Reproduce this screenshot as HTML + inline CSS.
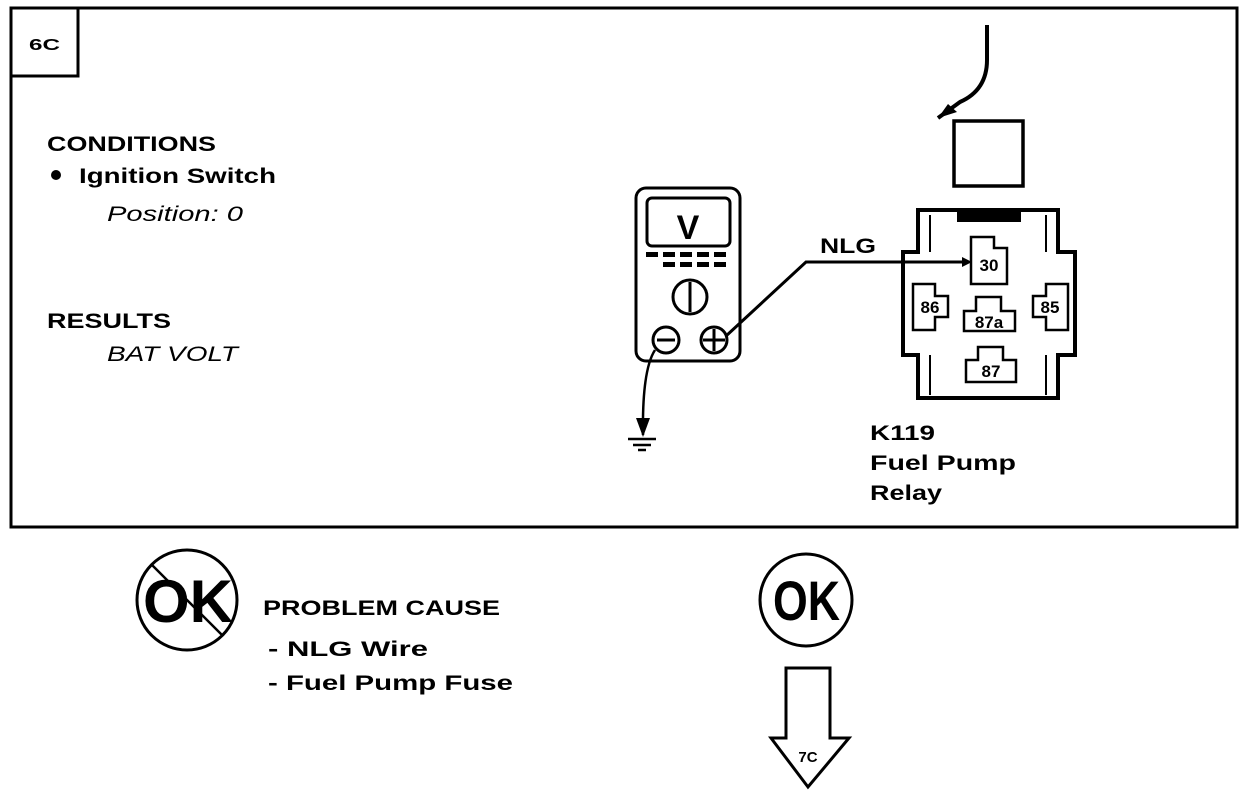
<!DOCTYPE html>
<html><head><style>
body{margin:0;background:#fff;}
svg{display:block;font-family:"Liberation Sans",Arial,sans-serif;}
.b{font-weight:bold;}
</style></head><body>
<svg width="1248" height="796" viewBox="0 0 1248 796">
<g fill="none" stroke="#000">
<rect x="11" y="8" width="1226" height="519" stroke-width="3"/>
<rect x="11" y="8" width="67" height="68" stroke-width="3"/>
<rect x="636" y="188" width="104" height="173" rx="10" stroke-width="3"/>
<rect x="647" y="198" width="83" height="48" rx="5" stroke-width="3"/>
<circle cx="690" cy="297" r="17" stroke-width="3"/>
<line x1="690" y1="282" x2="690" y2="312" stroke-width="3"/>
<circle cx="666" cy="340" r="13" stroke-width="3"/>
<line x1="657" y1="340" x2="675" y2="340" stroke-width="3"/>
<circle cx="714" cy="340" r="13" stroke-width="3"/>
<line x1="703" y1="340" x2="725" y2="340" stroke-width="3"/>
<line x1="714" y1="329" x2="714" y2="351" stroke-width="3"/>
<path d="M655 350 Q642 370 643 435" stroke-width="2.5"/>
<path d="M726 336 L806 262 L962 262" stroke-width="3"/>
<path d="M918 210 H1058 V252 H1075 V355 H1058 V398 H918 V355 H903 V252 H918 Z" stroke-width="4"/>
<line x1="930" y1="215" x2="930" y2="252" stroke-width="2"/>
<line x1="1046" y1="215" x2="1046" y2="252" stroke-width="2"/>
<line x1="930" y1="355" x2="930" y2="395" stroke-width="2"/>
<line x1="1046" y1="355" x2="1046" y2="395" stroke-width="2"/>
<path d="M971 237 H994 V248 H1007 V284 H971 Z" stroke-width="2.5"/>
<path d="M913 284 H935 V296 H948 V317 H935 V330 H913 Z" stroke-width="2.5"/>
<path d="M1068 284 H1046 V296 H1033 V317 H1046 V330 H1068 Z" stroke-width="2.5"/>
<path d="M964 331 V311 H976 V297 H1001 V311 H1015 V331 Z" stroke-width="2.5"/>
<path d="M966 382 V360 H978 V347 H1003 V360 H1016 V382 Z" stroke-width="2.5"/>
<rect x="954" y="121" width="69" height="65" stroke-width="3.5"/>
<path d="M987 25 V60 Q987 90 960 102 L938 118" stroke-width="4"/>
<circle cx="187" cy="600" r="50" stroke-width="3"/>
<line x1="152" y1="565" x2="222" y2="635" stroke-width="2.5"/>
<circle cx="806" cy="600" r="46" stroke-width="3"/>
<path d="M786 668 H830 V738 H849 L808 787 L771 738 H786 Z" stroke-width="3"/>
</g>
<rect x="957" y="212" width="64" height="10" fill="#000"/>
<path d="M962 257 L972 262 L962 267 Z" fill="#000"/>
<path d="M938 118 L948 104 L957 112 Z" fill="#000"/>
<path d="M636 418 L650 418 L643 437 Z" fill="#000"/>
<g stroke="#000" stroke-width="2.5"><line x1="628" y1="439" x2="656" y2="439"/><line x1="633" y1="445" x2="651" y2="445"/><line x1="638" y1="450" x2="646" y2="450"/></g>
<g fill="#000">
<rect x="646" y="252" width="12" height="5"/><rect x="663" y="252" width="12" height="5"/><rect x="680" y="252" width="12" height="5"/><rect x="697" y="252" width="12" height="5"/><rect x="714" y="252" width="12" height="5"/>
<rect x="663" y="262" width="12" height="5"/><rect x="680" y="262" width="12" height="5"/><rect x="697" y="262" width="12" height="5"/><rect x="714" y="262" width="12" height="5"/>
</g>
<g class="b" fill="#000" lengthAdjust="spacingAndGlyphs">
<text x="29" y="50" font-size="16" textLength="31" lengthAdjust="spacingAndGlyphs">6C</text>
<text x="47" y="151" font-size="21" textLength="169" lengthAdjust="spacingAndGlyphs">CONDITIONS</text>
<circle cx="56" cy="175" r="5"/>
<text x="79" y="183" font-size="21" textLength="197" lengthAdjust="spacingAndGlyphs">Ignition Switch</text>
<text x="47" y="328" font-size="21" textLength="124" lengthAdjust="spacingAndGlyphs">RESULTS</text>
<text x="688" y="239" font-size="34" text-anchor="middle">V</text>
<text x="820" y="253" font-size="21" textLength="56" lengthAdjust="spacingAndGlyphs">NLG</text>
<text x="989" y="271" font-size="17" text-anchor="middle">30</text>
<text x="930" y="313" font-size="17" text-anchor="middle">86</text>
<text x="1050" y="313" font-size="17" text-anchor="middle">85</text>
<text x="989" y="328" font-size="17" text-anchor="middle">87a</text>
<text x="991" y="377" font-size="17" text-anchor="middle">87</text>
<text x="870" y="440" font-size="21" textLength="65" lengthAdjust="spacingAndGlyphs">K119</text>
<text x="870" y="470" font-size="21" textLength="146" lengthAdjust="spacingAndGlyphs">Fuel Pump</text>
<text x="870" y="500" font-size="21" textLength="72" lengthAdjust="spacingAndGlyphs">Relay</text>
<text x="143" y="622" font-size="60" textLength="90" lengthAdjust="spacingAndGlyphs">OK</text>
<text x="773" y="620" font-size="56" textLength="67" lengthAdjust="spacingAndGlyphs">OK</text>
<text x="263" y="615" font-size="21" textLength="237" lengthAdjust="spacingAndGlyphs">PROBLEM CAUSE</text>
<text x="268" y="656" font-size="21" textLength="160" lengthAdjust="spacingAndGlyphs">-  NLG  Wire</text>
<text x="268" y="690" font-size="21" textLength="245" lengthAdjust="spacingAndGlyphs">-  Fuel Pump Fuse</text>
<text x="808" y="762" font-size="15" text-anchor="middle">7C</text>
</g>
<g font-style="italic" fill="#000" font-size="21">
<text x="107" y="221" textLength="136" lengthAdjust="spacingAndGlyphs">Position: 0</text>
<text x="107" y="361" textLength="131" lengthAdjust="spacingAndGlyphs">BAT VOLT</text>
</g>
</svg>
</body></html>
